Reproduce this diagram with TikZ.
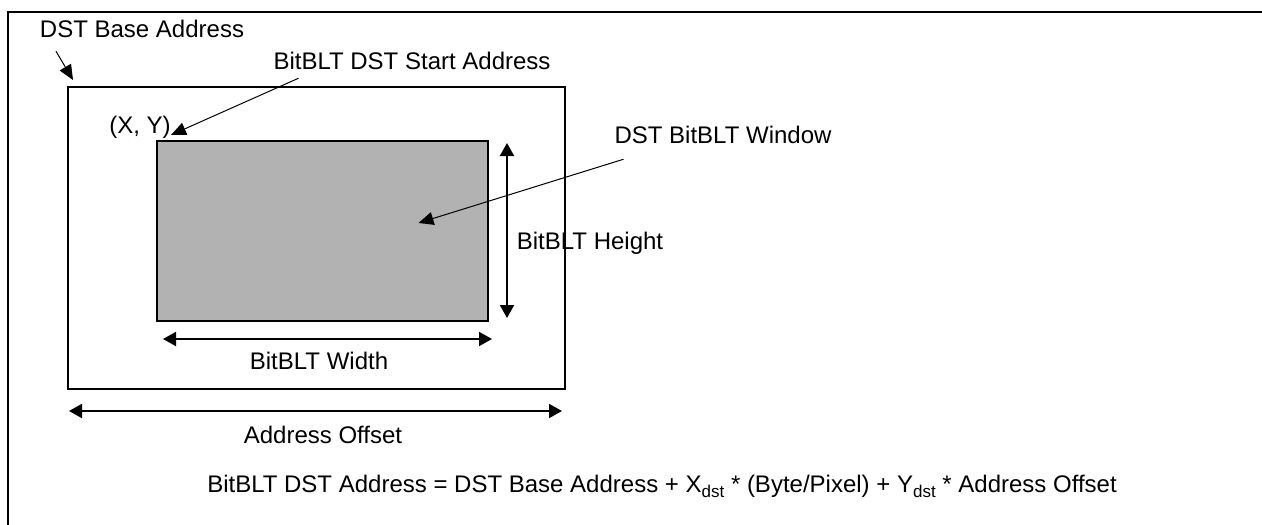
\documentclass[tikz,border=0pt]{standalone}
\usepackage{fontspec}
\setmainfont{Liberation Sans}
\usetikzlibrary{arrows.meta}
\newcommand{\dstsub}{\raisebox{-0.45ex}{\fontsize{17}{20}\selectfont dst}}
\begin{document}
\begin{tikzpicture}[x=1pt,y=-1pt,
  every node/.style={font=\fontsize{24}{29}\selectfont,inner sep=0pt,outer sep=0pt},
  lbl/.style={anchor=base},
  dim/.style={{Triangle[length=13pt,width=14pt]}-{Triangle[length=13pt,width=14pt]},line width=2pt},
  ptr/.style={-{Triangle[length=15pt,width=13pt]},line width=1pt}]
\useasboundingbox (0,0) rectangle (1262,525);
% frame
\draw[line width=2.2pt] (8,525) -- (8,12) -- (1262,12);
% destination buffer and window
\node[draw,line width=2pt,minimum width=497pt,minimum height=302pt,anchor=north west] (buf) at (68,87) {};
\node[draw,line width=2pt,fill=black!30,minimum width=331pt,minimum height=180pt,anchor=north west] (blt) at (157,141) {};
% labels
\node[lbl] (base) at (142,37) {DST Base Address};
\node[lbl] (start) at (412,69) {BitBLT DST Start Address};
\node[lbl] (xy) at (140,133) {(X, Y)};
\node[lbl] (win) at (723,143) {DST BitBLT Window};
\node[lbl] (hgt) at (590,249) {BitBLT Height};
\node[lbl] (wid) at (319,369) {BitBLT Width};
\node[lbl] (off) at (323,443) {Address Offset};
\node[lbl] (eq) at (662,492) {BitBLT DST Address = DST Base Address + X\dstsub{} * (Byte/Pixel) + Y\dstsub{} * Address Offset};
% pointers
\draw[ptr] ([shift={(16,14)}]base.south west) -- ([shift={(5,-7)}]buf.north west);
\draw[ptr] ([shift={(25,9)}]start.south west) -- ([shift={(14,-6)}]blt.north west);
\draw[ptr] ([shift={(9,16)}]win.south west) -- ([shift={(96,-8)}]blt.center);
% dimensions
\draw[dim] ([shift={(19,2)}]blt.north east) -- ([shift={(19,-3)}]blt.south east);
\draw[dim] ([shift={(6,18)}]blt.south west) -- ([shift={(4,18)}]blt.south east);
\draw[dim] ([shift={(1,22)}]buf.south west) -- ([shift={(-3,22)}]buf.south east);
\end{tikzpicture}
\end{document}
